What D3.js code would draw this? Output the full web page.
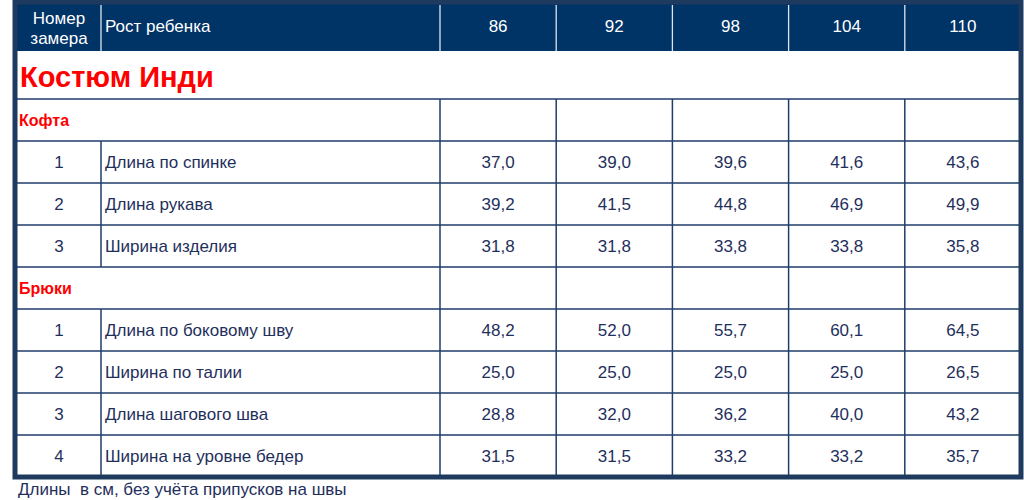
<!DOCTYPE html>
<html><head><meta charset="utf-8">
<script src="https://cdn.jsdelivr.net/npm/d3@7"></script>
<style>body{margin:0;background:#fff;}svg{display:block;font-family:"Liberation Sans",Arial,sans-serif;}text{white-space:pre;}</style>
</head><body><svg id="c" width="1024" height="500"></svg>
<script>
const sizes = ["86","92","98","104","110"];
const headerNum = ["Номер","замера"];
const headerLabel = "Рост ребенка";
const title = "Костюм Инди";
const sectionNames = ["Кофта","Брюки"];
const jacketLabels = ["Длина по спинке","Длина рукава","Ширина изделия"];
const jacketValues = [
  [37.0,39.0,39.6,41.6,43.6],
  [39.2,41.5,44.8,46.9,49.9],
  [31.8,31.8,33.8,33.8,35.8]
];
const pantsLabels = ["Длина по боковому шву","Ширина по талии","Длина шагового шва","Ширина на уровне бедер"];
const pantsValues = [
  [48.2,52.0,55.7,60.1,64.5],
  [25.0,25.0,25.0,25.0,26.5],
  [28.8,32.0,36.2,40.0,43.2],
  [31.5,31.5,33.2,33.2,35.7]
];
const footnote = "Длины  в см, без учёта припусков на швы";

const rows = [];
rows.push({type:"section", name:sectionNames[0]});
jacketLabels.forEach((l,i)=>rows.push({type:"data", num:i+1, label:l, values:jacketValues[i]}));
rows.push({type:"section", name:sectionNames[1]});
pantsLabels.forEach((l,i)=>rows.push({type:"data", num:i+1, label:l, values:pantsValues[i]}));

const fmt = d3.formatLocale({decimal:",",thousands:" ",grouping:[3],currency:["",""]}).format(".1f");

const svg = d3.select("#c");
const L=15, R=1021, T=2, B=477;
const c1=101, c2=440;
const headerB=51, titleB=99;
const navy="#003366", lineC="#1f3d6b", textC="#1f2f5c";
const fs=17;

const x = d3.scaleBand().domain(sizes).range([c2,R]);
const y = d3.scaleBand().domain(d3.range(rows.length)).range([titleB,B]);

// header
svg.append("rect").attr("x",L).attr("y",T).attr("width",R-L).attr("height",headerB-T).attr("fill",navy);
const hdiv=[c1,c2].concat(sizes.slice(1).map(s=>x(s)));
svg.selectAll(".hd").data(hdiv).join("line").attr("x1",d=>d).attr("x2",d=>d).attr("y1",T+3).attr("y2",headerB)
  .attr("stroke","#dce6f0").attr("stroke-width",1.3);
svg.append("text").attr("x",(L+c1)/2+1).attr("y",24).attr("text-anchor","middle").attr("fill","#fff").attr("font-size",fs).text(headerNum[0]);
svg.append("text").attr("x",(L+c1)/2+1).attr("y",44).attr("text-anchor","middle").attr("fill","#fff").attr("font-size",fs).text(headerNum[1]);
svg.append("text").attr("x",105).attr("y",32).attr("fill","#fff").attr("font-size",fs).text(headerLabel);
svg.selectAll(".hs").data(sizes).join("text").attr("x",d=>x(d)+x.bandwidth()/2).attr("y",32).attr("text-anchor","middle")
  .attr("fill","#fff").attr("font-size",fs).text(d=>d);

// title
svg.append("text").attr("x",20).attr("y",87).attr("fill","#ff0000").attr("font-size",29).attr("font-weight","bold").text(title);
svg.append("line").attr("x1",L).attr("x2",R).attr("y1",titleB).attr("y2",titleB).attr("stroke",lineC).attr("stroke-width",1.5);

// rows
rows.forEach((r,i)=>{
  const y0=y(i), h=y.bandwidth(), yc=y0+h/2+6;
  svg.append("line").attr("x1",L).attr("x2",R).attr("y1",y0+h).attr("y2",y0+h).attr("stroke",lineC).attr("stroke-width",1.5);
  const divs = r.type==="data" ? [c1,c2].concat(sizes.slice(1).map(s=>x(s))) : [c2].concat(sizes.slice(1).map(s=>x(s)));
  divs.forEach(d=>svg.append("line").attr("x1",d).attr("x2",d).attr("y1",y0).attr("y2",y0+h).attr("stroke",lineC).attr("stroke-width",1.5));
  if(r.type==="section"){
    svg.append("text").attr("x",19).attr("y",yc).attr("fill","#ff0000").attr("font-size",16).attr("font-weight","bold").text(r.name);
  } else {
    svg.append("text").attr("x",(L+c1)/2+1).attr("y",yc).attr("text-anchor","middle").attr("fill",textC).attr("font-size",fs).text(r.num);
    svg.append("text").attr("x",105).attr("y",yc).attr("fill",textC).attr("font-size",fs).text(r.label);
    svg.selectAll(null).data(r.values.map((v,k)=>({v,s:sizes[k]}))).join("text")
      .attr("x",d=>x(d.s)+x.bandwidth()/2).attr("y",yc).attr("text-anchor","middle").attr("fill",textC).attr("font-size",fs).text(d=>fmt(d.v));
  }
});

// outer frame
svg.append("rect").attr("x",L).attr("y",T).attr("width",R-L).attr("height",B-T).attr("fill","none").attr("stroke","#1e3a5f").attr("stroke-width",5);

svg.append("text").attr("x",18).attr("y",495).attr("fill",textC).attr("font-size",fs).text(footnote);
</script></body></html>
